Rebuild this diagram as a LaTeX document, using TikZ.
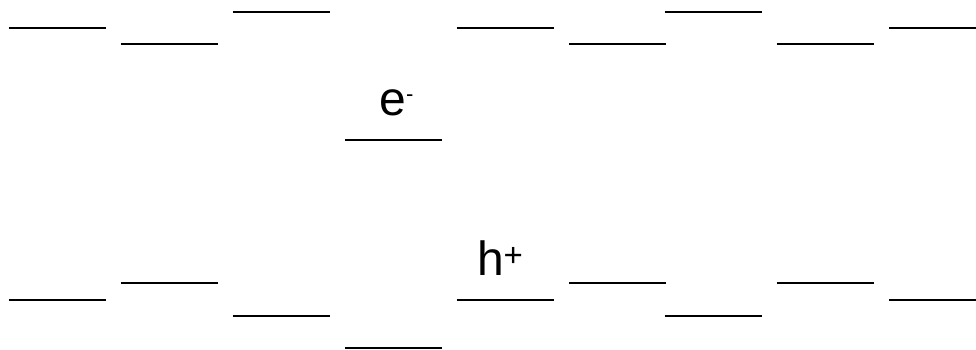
\documentclass[tikz,border=0pt]{standalone}
\usepackage{fontspec}
\setmainfont{Liberation Sans}
\begin{document}
\begin{tikzpicture}[x=1pt,y=-1pt,
  level/.style={line width=2pt,black},
  lab/.style={anchor=base west,inner sep=0pt,outer sep=0pt,font=\fontsize{48}{48}\selectfont}]
\useasboundingbox (0,0) rectangle (976,349);
% top band
\foreach \a/\b/\y in {8.5/106/28, 120.5/218/43.5, 232.7/330/12, 456.7/554/28, 569/666/43.5, 664.7/762/12, 776.7/874/43.5, 889/976/28}
  \draw[level] (\a,\y) -- (\b,\y);
% middle level
\draw[level] (345,140) -- (441.7,140);
% bottom band
\foreach \a/\b/\y in {8.5/106/300, 120.5/218/283.3, 232.7/330/315.7, 345/441.7/347.7, 456.7/554/300, 569/666/283.3, 664.7/762/315.7, 776.7/874/283.3, 889/976/300}
  \draw[level] (\a,\y) -- (\b,\y);
% labels
\node[lab] (el) at (379.5,115.5) {e\raisebox{14pt}{\fontsize{22}{22}\selectfont -}};
\node[lab] (ho) at (477,275.5) {h\raisebox{8.8pt}{\fontsize{33}{33}\selectfont +}};
\end{tikzpicture}
\end{document}
